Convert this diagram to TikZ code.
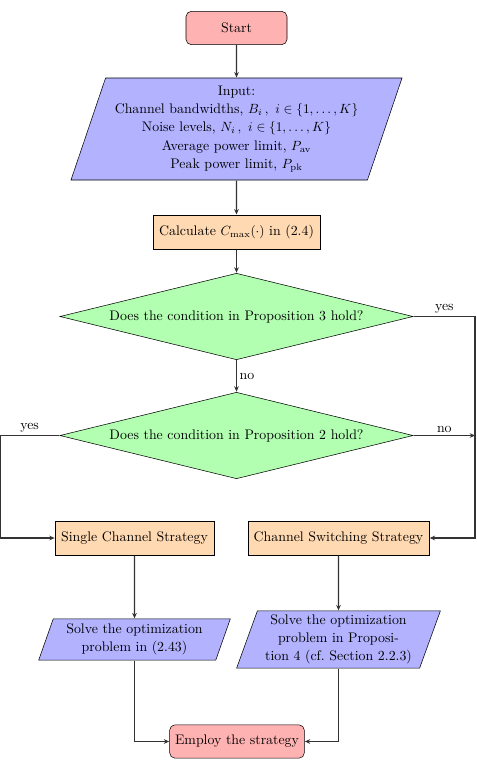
\documentclass[tikz,border=0pt]{standalone}
\usetikzlibrary{shapes.geometric,arrows.meta}
\begin{document}
\begin{tikzpicture}[x=0.75pt,y=-0.75pt,
  every node/.style={font=\fontsize{10.4}{13.75}\selectfont},
  term/.style={draw,rounded corners=4pt,fill=red!30,minimum height=25pt,inner sep=2pt},
  proc/.style={draw,fill=orange!30,minimum height=25.5pt,inner sep=2pt},
  io/.style={draw,trapezium,trapezium left angle=70,trapezium right angle=110,trapezium stretches=true,fill=blue!30,align=center,inner sep=1pt},
  dec/.style={draw,diamond,aspect=4,fill=green!30,minimum width=265pt,minimum height=65pt,inner sep=0pt},
  conn/.style={line width=0.8pt,draw=black!80},
  arr/.style={conn,-{Stealth[length=4pt,width=3.5pt]}},
  lab/.style={inner sep=2pt}
]
\useasboundingbox (0,0) rectangle (477,765);
\tikzset{line width=0.8pt}
\node[term,minimum width=75.75pt] (start) at (236.5,28) {Start};
\node[io,minimum width=249pt,minimum height=76.5pt] (input) at (236.5,129) {Input:\\
Channel bandwidths, $B_i\,,\ i\in\{1,\dots,K\}$\\
Noise levels, $N_i\,,\ i\in\{1,\dots,K\}$\\
Average power limit, $P_{\mathrm{av}}$\\
Peak power limit, $P_{\mathrm{pk}}$};
\node[proc,minimum width=125pt] (calc) at (236.5,232) {Calculate $C_{\max}(\cdot)$ in (2.4)};
\node[dec] (d1) at (236.5,316.5) {Does the condition in Proposition 3 hold?};
\node[dec] (d2) at (236.5,435.5) {Does the condition in Proposition 2 hold?};
\node[proc,minimum width=119pt] (single) at (134.5,538) {Single Channel Strategy};
\node[proc,minimum width=136pt] (switch) at (338.5,538) {Channel Switching Strategy};
\node[io,minimum width=144pt,minimum height=31pt] (p1) at (134.5,639.5) {Solve the optimization\\ problem in (2.43)};
\node[io,minimum width=153pt,minimum height=43pt] (p2) at (338.5,639.5) {Solve the optimization\\ problem in Proposi-\\ tion 4 (cf.\ Section 2.2.3)};
\node[term,minimum width=101pt] (employ) at (237,741.5) {Employ the strategy};
\coordinate (rr) at (475,316.5);
\coordinate (rr2) at (475,435.5);
\coordinate (ll) at (0,435.5);
\draw[arr] (start) -- (input);
\draw[arr] (input) -- (calc);
\draw[arr] (calc) -- (d1);
\draw[arr] (d1) -- node[lab,right]{no} (d2);
\draw[arr] (d1.east) -- node[lab,above]{yes} (rr) |- (switch.east);
\draw[arr] (d2.east) -- node[lab,above]{no} (rr2);
\draw[arr] (d2.west) -- node[lab,above]{yes} (ll) |- (single.west);
\draw[arr] (single) -- (p1);
\draw[arr] (switch) -- (p2);
\draw[arr] (p1.south) |- (employ.west);
\draw[arr] (p2.south) |- (employ.east);
\end{tikzpicture}
\end{document}
